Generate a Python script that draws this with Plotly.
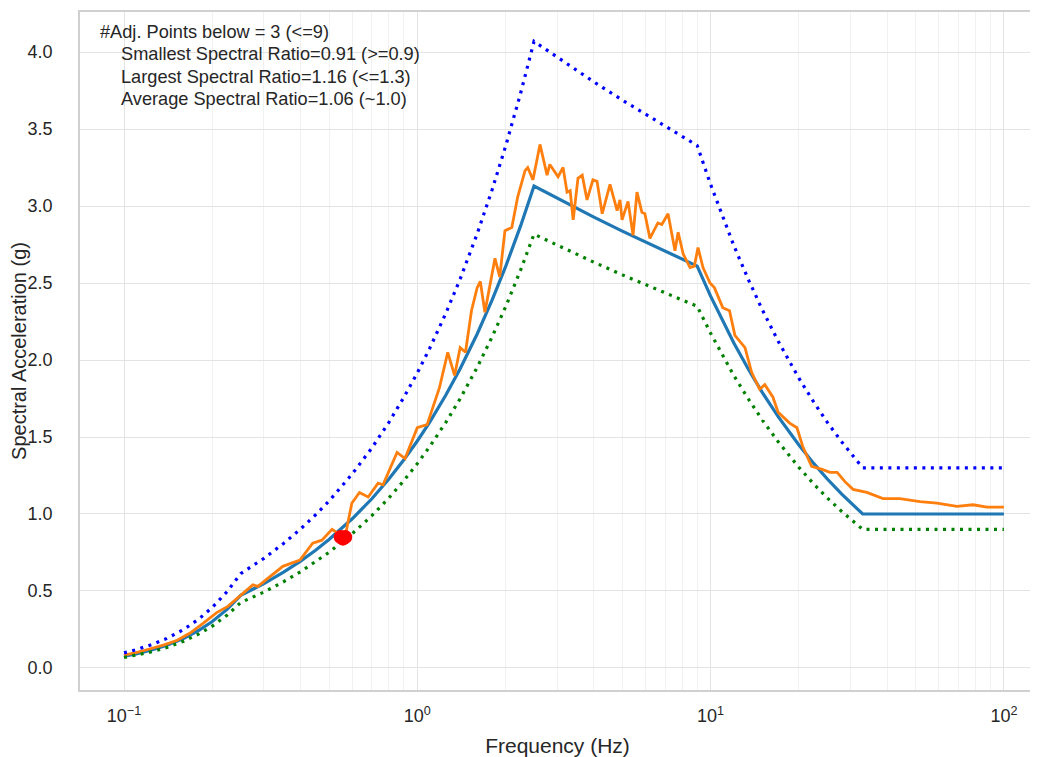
import plotly.graph_objects as go

# Target spectrum
TARGET_F = [0.1, 0.11, 0.125, 0.14, 0.16, 0.18, 0.2, 0.225, 0.25, 0.3, 0.35, 0.4, 0.45, 0.5, 0.6, 0.7,
            0.8, 0.9, 1.0, 1.1, 1.25, 1.4, 1.6, 1.8, 2.0, 2.25, 2.5, 3.0, 3.5, 4.0, 5.0, 6.0, 7.0, 8.0,
            9.0, 10.0, 11.0, 12.0, 13.5, 15.0, 17.0, 20.0, 22.5, 25.0, 28.0, 30.0, 33.0, 50.0, 100.0]
TARGET_V = [0.076, 0.091, 0.118, 0.148, 0.193, 0.245, 0.302, 0.382, 0.472, 0.548, 0.622, 0.694, 0.765,
            0.834, 0.969, 1.099, 1.227, 1.352, 1.474, 1.594, 1.771, 1.943, 2.169, 2.390, 2.606, 2.871,
            3.130, 3.050, 2.984, 2.928, 2.837, 2.765, 2.705, 2.654, 2.610, 2.415, 2.251, 2.110, 1.935,
            1.790, 1.632, 1.448, 1.327, 1.227, 1.129, 1.073, 1.000, 1.000, 1.000]
UPPER_V = [0.098, 0.119, 0.153, 0.192, 0.251, 0.318, 0.393, 0.497, 0.613, 0.712, 0.809, 0.902, 0.995,
           1.084, 1.260, 1.429, 1.595, 1.758, 1.916, 2.072, 2.302, 2.526, 2.820, 3.107, 3.388, 3.732,
           4.069, 3.965, 3.879, 3.806, 3.688, 3.595, 3.517, 3.450, 3.393, 3.140, 2.926, 2.743, 2.516,
           2.327, 2.122, 1.882, 1.725, 1.595, 1.468, 1.395, 1.300, 1.300, 1.300]
LOWER_V = [0.068, 0.082, 0.106, 0.133, 0.174, 0.221, 0.272, 0.344, 0.425, 0.493, 0.560, 0.625, 0.689,
           0.751, 0.872, 0.989, 1.104, 1.217, 1.327, 1.435, 1.594, 1.749, 1.952, 2.151, 2.345, 2.584,
           2.817, 2.745, 2.686, 2.635, 2.553, 2.489, 2.435, 2.389, 2.349, 2.174, 2.026, 1.899, 1.742,
           1.611, 1.469, 1.303, 1.194, 1.104, 1.016, 0.966, 0.900, 0.900, 0.900]

# Computed (adjusted) spectrum
ORANGE_F = [0.100, 0.110, 0.123, 0.137, 0.152, 0.168, 0.186, 0.207, 0.226, 0.249,
            0.275, 0.286, 0.308, 0.348, 0.398, 0.440, 0.473, 0.512, 0.532, 0.548,
            0.558, 0.568, 0.578, 0.598, 0.635, 0.680, 0.735, 0.764, 0.853, 0.908,
            1.000, 1.080, 1.190, 1.270, 1.340, 1.400, 1.460, 1.530, 1.600, 1.640,
            1.700, 1.840, 1.910, 1.990, 2.100, 2.200, 2.330, 2.380, 2.480, 2.620,
            2.770, 2.830, 3.020, 3.140, 3.240, 3.320, 3.400, 3.530, 3.650, 3.790,
            3.970, 4.100, 4.270, 4.540, 4.800, 4.910, 4.990, 5.230, 5.440, 5.610,
            5.830, 5.970, 6.210, 6.610, 6.820, 7.160, 7.560, 7.750, 8.060, 8.510,
            8.800, 9.060, 9.420, 9.720, 9.950, 10.30, 11.00, 11.60, 12.10, 13.10,
            13.80, 14.70, 15.30, 16.30, 17.00, 18.60, 19.70, 20.60, 22.10, 24.00,
            25.50, 27.00, 28.70, 30.60, 34.10, 38.70, 44.20, 51.70, 59.10, 69.20,
            78.50, 87.50, 100.0]
ORANGE_V = [0.084, 0.100, 0.125, 0.150, 0.180, 0.227, 0.290, 0.360, 0.400, 0.470,
            0.540, 0.530, 0.580, 0.660, 0.700, 0.810, 0.830, 0.900, 0.880, 0.850,
            0.840, 0.850, 0.930, 1.070, 1.140, 1.110, 1.200, 1.190, 1.400, 1.360,
            1.560, 1.580, 1.820, 2.050, 1.900, 2.080, 2.050, 2.320, 2.470, 2.510,
            2.310, 2.660, 2.540, 2.840, 2.860, 3.060, 3.230, 3.250, 3.170, 3.400,
            3.200, 3.270, 3.190, 3.250, 3.090, 3.100, 2.910, 3.180, 3.200, 3.040,
            3.170, 3.160, 2.950, 3.140, 2.970, 3.040, 2.910, 3.030, 2.810, 3.090,
            2.960, 2.950, 2.790, 2.890, 2.880, 2.950, 2.710, 2.830, 2.690, 2.600,
            2.610, 2.730, 2.600, 2.540, 2.500, 2.470, 2.340, 2.320, 2.160, 2.080,
            1.920, 1.810, 1.840, 1.760, 1.660, 1.590, 1.560, 1.440, 1.310, 1.290,
            1.270, 1.270, 1.210, 1.160, 1.140, 1.100, 1.100, 1.080, 1.070, 1.050,
            1.060, 1.045, 1.045]

# Adjusted points below
RED_F = [0.548, 0.558, 0.568]
RED_V = [0.850, 0.840, 0.850]

X_TICKS = [0.1, 1, 10, 100]
X_TICKTEXT = ["10<sup>\u22121</sup>", "10<sup>0</sup>", "10<sup>1</sup>", "10<sup>2</sup>"]
Y_TICKS = [0.0, 0.5, 1.0, 1.5, 2.0, 2.5, 3.0, 3.5, 4.0]
MINOR_X = [m * d for d in (0.1, 1, 10) for m in range(2, 10)]

INFO_LINES = ["#Adj. Points below = 3 (<=9)",
              "Smallest Spectral Ratio=0.91 (>=0.9)",
              "Largest Spectral Ratio=1.16 (<=1.3)",
              "Average Spectral Ratio=1.06 (~1.0)"]

FONT = "Liberation Sans, Arial, sans-serif"
TXT = "#262626"

fig = go.Figure()
fig.add_trace(go.Scatter(x=TARGET_F, y=TARGET_V, mode="lines",
                         line=dict(color="#1f77b4", width=3.2), name="Target"))
fig.add_trace(go.Scatter(x=ORANGE_F, y=ORANGE_V, mode="lines",
                         line=dict(color="#ff7f0e", width=2.8), name="Adjusted"))
fig.add_trace(go.Scatter(x=TARGET_F, y=UPPER_V, mode="lines",
                         line=dict(color="#0000ff", width=3.2, dash="3px,5.5px"), name="Upper"))
fig.add_trace(go.Scatter(x=TARGET_F, y=LOWER_V, mode="lines",
                         line=dict(color="#008000", width=3.2, dash="3px,5.5px"), name="Lower"))
fig.add_trace(go.Scatter(x=RED_F, y=RED_V, mode="markers",
                         marker=dict(color="#ff0000", size=14, line=dict(width=0)), name="Below"))

# page is offset by the 8px body margin
W, H = 1030, 749
ML, MR, MT, MB = 72, 3, 4, 67
OFF = 8
pw, ph = W - ML - MR, H - MT - MB
lefts = [98, 119, 119, 119]
ys = [32, 54, 77, 99]
for i, t in enumerate(INFO_LINES):
    fig.add_annotation(x=(lefts[i] - OFF - ML) / pw, y=1 - (ys[i] - OFF - MT) / ph,
                       xref="paper", yref="paper",
                       text=t, showarrow=False, xanchor="left", yanchor="middle",
                       font=dict(family=FONT, size=18.2, color=TXT))

fig.update_layout(
    width=W, height=H,
    margin=dict(l=ML, r=MR, t=MT, b=MB, autoexpand=False),
    paper_bgcolor="white", plot_bgcolor="white",
    showlegend=False,
    font=dict(family=FONT, color=TXT, size=18),
)
fig.update_xaxes(
    type="log", range=[-1.150, 2.106], automargin=False,
    tickvals=X_TICKS, ticktext=X_TICKTEXT,
    showgrid=True, gridcolor="#e3e3e3", gridwidth=1,
    minor=dict(tickvals=MINOR_X, showgrid=True, gridcolor="#f1f1f1", gridwidth=1, ticks=""),
    showline=True, linecolor="#d0d0d0", linewidth=1.5, mirror=True,
    ticks="outside", ticklen=9, tickcolor="rgba(0,0,0,0)",
    tickfont=dict(family=FONT, size=18, color=TXT),
    title=dict(text="Frequency (Hz)", font=dict(family=FONT, size=21, color=TXT), standoff=14),
    zeroline=False,
)
fig.update_yaxes(
    range=[-0.143, 4.26], automargin=False,
    tickvals=Y_TICKS, ticktext=[f"{v:.1f}" for v in Y_TICKS],
    showgrid=True, gridcolor="#e3e3e3", gridwidth=1,
    showline=True, linecolor="#d0d0d0", linewidth=1.5, mirror=True,
    ticks="outside", ticklen=22, tickcolor="rgba(0,0,0,0)",
    tickfont=dict(family=FONT, size=18, color=TXT),
    title=dict(text="Spectral Acceleration (g)", font=dict(family=FONT, size=20, color=TXT), standoff=0),
    zeroline=False,
)

fig.write_html("out.html")
